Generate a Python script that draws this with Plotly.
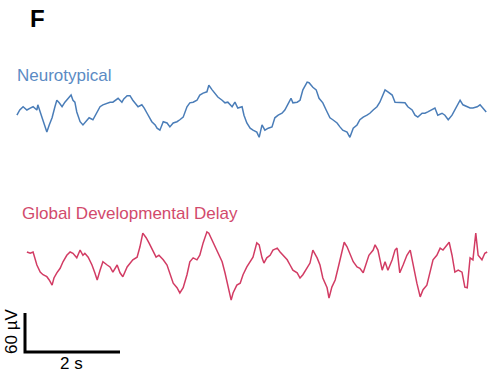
import plotly.graph_objects as go

# ---- data (time in s, voltage in µV relative to trace baseline) ----
nt_t = [-0.17, -0.11, -0.04, 0.04, 0.11, 0.17, 0.25, 0.27, 0.36, 0.42, 0.46, 0.51, 0.57, 0.63, 0.67, 0.72,
        0.78, 0.84, 0.91, 0.97, 1.01, 1.05, 1.09, 1.16, 1.22, 1.28, 1.35, 1.43, 1.52, 1.58, 1.64, 1.73,
        1.79, 1.85, 1.94, 1.96, 2.04, 2.08, 2.15, 2.21, 2.27, 2.32, 2.38, 2.46, 2.51, 2.57, 2.61, 2.67,
        2.74, 2.78, 2.84, 2.91, 2.99, 3.05, 3.12, 3.20, 3.26, 3.33, 3.41, 3.47, 3.54, 3.62, 3.68, 3.75,
        3.83, 3.87, 3.94, 4.00, 4.06, 4.15, 4.21, 4.27, 4.36, 4.42, 4.48, 4.57, 4.61, 4.67, 4.74, 4.80,
        4.88, 4.93, 4.99, 5.05, 5.12, 5.20, 5.26, 5.33, 5.41, 5.47, 5.54, 5.60, 5.64, 5.73, 5.79, 5.85,
        5.94, 5.98, 6.06, 6.13, 6.19, 6.27, 6.34, 6.36, 6.42, 6.48, 6.57, 6.63, 6.69, 6.78, 6.84, 6.91,
        6.99, 7.05, 7.12, 7.20, 7.26, 7.33, 7.41, 7.47, 7.54, 7.58, 7.64, 7.73, 7.79, 7.85, 7.94, 8.00,
        8.06, 8.15, 8.21, 8.27, 8.36, 8.42, 8.48, 8.57, 8.63, 8.69, 8.78, 8.84, 8.91, 8.99, 9.05, 9.12,
        9.16, 9.22, 9.31, 9.37, 9.43, 9.52, 9.58, 9.64, 9.71]
nt_v = [-8, 0, 5, 0, 3, 5, 0, 8, -12, -26, -34, -23, -12, 5, 15, 11,
        5, 12, 18, 23, 15, 12, -3, -18, -23, -18, -12, -15, -3, 5, 8, 11,
        12, 12, 17, 18, 12, 17, 22, 22, 15, 11, 5, 8, 3, -5, -11, -18,
        -23, -28, -31, -18, -20, -26, -20, -18, -15, -11, 5, 11, 12, 15, 23, 26,
        28, 38, 31, 26, 20, 15, 11, 12, 5, 12, 3, 5, -8, -20, -28, -31,
        -34, -42, -23, -31, -28, -26, -12, -8, -5, 0, 11, 18, 11, 12, 15, 31,
        43, 42, 35, 31, 18, 11, 0, -3, -12, -15, -20, -26, -31, -34, -42, -28,
        -23, -15, -11, -8, -5, 0, 5, 12, 26, 31, 28, 23, 12, 12, 11, 11,
        5, 0, -8, -11, -5, -5, -3, 0, 3, -8, -5, -8, -15, -8, 0, 11,
        15, 8, 5, 3, 3, 5, 8, 3, -3]

gdd_t = [0.04, 0.11, 0.17, 0.25, 0.32, 0.38, 0.46, 0.51, 0.57, 0.61, 0.67, 0.74, 0.80, 0.88, 0.95, 1.01,
         1.09, 1.16, 1.22, 1.26, 1.33, 1.41, 1.47, 1.52, 1.58, 1.64, 1.73, 1.79, 1.85, 1.94, 2.00, 2.06,
         2.15, 2.21, 2.27, 2.36, 2.42, 2.48, 2.55, 2.61, 2.69, 2.76, 2.82, 2.91, 2.99, 3.05, 3.12, 3.20,
         3.26, 3.33, 3.41, 3.47, 3.54, 3.62, 3.68, 3.75, 3.83, 3.87, 3.94, 4.00, 4.06, 4.15, 4.21, 4.27,
         4.34, 4.38, 4.46, 4.53, 4.59, 4.67, 4.74, 4.80, 4.88, 4.93, 4.99, 5.03, 5.09, 5.16, 5.22, 5.31,
         5.37, 5.43, 5.52, 5.58, 5.64, 5.73, 5.79, 5.85, 5.94, 6.00, 6.06, 6.15, 6.21, 6.27, 6.36, 6.40,
         6.46, 6.53, 6.59, 6.67, 6.72, 6.78, 6.84, 6.91, 6.99, 7.05, 7.12, 7.18, 7.24, 7.33, 7.37, 7.43,
         7.52, 7.58, 7.64, 7.73, 7.79, 7.83, 7.89, 7.96, 8.04, 8.11, 8.17, 8.25, 8.32, 8.38, 8.46, 8.53,
         8.59, 8.67, 8.74, 8.80, 8.88, 8.93, 8.99, 9.05, 9.12, 9.20, 9.26, 9.31, 9.37, 9.43, 9.49, 9.54,
         9.62, 9.68, 9.73]
gdd_v = [20, 18, 20, 0, -11, -15, -18, -23, -31, -20, -12, -5, 5, 15, 20, 18,
         11, 23, 15, 18, 12, 0, -12, -23, -8, 5, 0, -3, -11, 0, -12, -18,
         -3, 3, 8, 12, 28, 49, 42, 34, 23, 12, 15, 8, 0, -12, -28, -35,
         -43, -35, -15, 5, 11, 8, 15, 34, 51, 49, 38, 26, 18, 5, -12, -34,
         -54, -43, -31, -28, -15, -3, 5, 12, 34, 31, 11, 3, 11, 15, 23, 26,
         20, 15, 8, 0, -8, -12, -20, -15, -5, 3, 23, 11, 0, -20, -35, -51,
         -34, -23, -5, 18, 35, 28, 18, 5, -3, -5, -12, 3, 15, 23, 31, 23,
         -8, 5, -8, 8, 23, 26, -12, 0, 15, 23, 0, -28, -49, -38, -31, -11,
         8, 15, 26, 23, 31, 35, 15, -11, -8, -11, -34, -35, 11, 8, 49, 15,
         8, 18, 20]

labels = ["Neurotypical", "Global Developmental Delay"]
colors = ["#4a7db8", "#d23c64"]
text_colors = ["#5b8bc4", "#d24a6c"]

scale_t = 2      # s
scale_v = 60     # µV
scale_labels = ["2 s", "60 µV"]

# ---- layout constants (positions) ----
W, H = 501, 374
px_per_s = 47.5
px_per_uv = 39 / 60
x0_px, y0_px = 25, 352           # scale bar corner in pixels
baselines_px = [110, 265]        # vertical centres of the traces

x_range = [(0 - x0_px) / px_per_s, (W - x0_px) / px_per_s]
y_range = [-(H - y0_px) / px_per_uv, y0_px / px_per_uv]
offsets = [(y0_px - b) / px_per_uv for b in baselines_px]

fig = go.Figure()
for t, v, off, c in [(nt_t, nt_v, offsets[0], colors[0]), (gdd_t, gdd_v, offsets[1], colors[1])]:
    fig.add_trace(go.Scatter(x=t, y=[val + off for val in v], mode="lines",
                             line=dict(color=c, width=1.5), hoverinfo="skip", showlegend=False))

# scale bar
fig.add_trace(go.Scatter(x=[0, 0, scale_t], y=[scale_v, 0, 0], mode="lines",
                         line=dict(color="black", width=3), showlegend=False, hoverinfo="skip"))

font = "Liberation Sans, Arial, sans-serif"
ann = [
    dict(text="<b>F</b>", x=28 / W, y=1 - 19 / H, xanchor="left", yanchor="middle",
         font=dict(size=24, color="black", family=font)),
    dict(text=labels[0], x=15 / W, y=1 - 75 / H, xanchor="left", yanchor="middle",
         font=dict(size=17, color=text_colors[0], family=font)),
    dict(text=labels[1], x=20 / W, y=1 - 214 / H, xanchor="left", yanchor="middle",
         font=dict(size=17, color=text_colors[1], family=font)),
    dict(text=scale_labels[0], x=71 / W, y=1 - 363 / H, xanchor="center", yanchor="middle",
         font=dict(size=17, color="black", family=font)),
    dict(text=scale_labels[1], x=11 / W, y=1 - 332 / H, xanchor="center", yanchor="middle",
         textangle=-90, font=dict(size=17, color="black", family=font)),
]
for a in ann:
    fig.add_annotation(xref="paper", yref="paper", showarrow=False, **a)

fig.update_layout(width=W, height=H, margin=dict(l=0, r=0, t=0, b=0),
                  paper_bgcolor="white", plot_bgcolor="white")
fig.update_xaxes(range=x_range, visible=False, fixedrange=True)
fig.update_yaxes(range=y_range, visible=False, fixedrange=True)
fig.write_html("out.html")
